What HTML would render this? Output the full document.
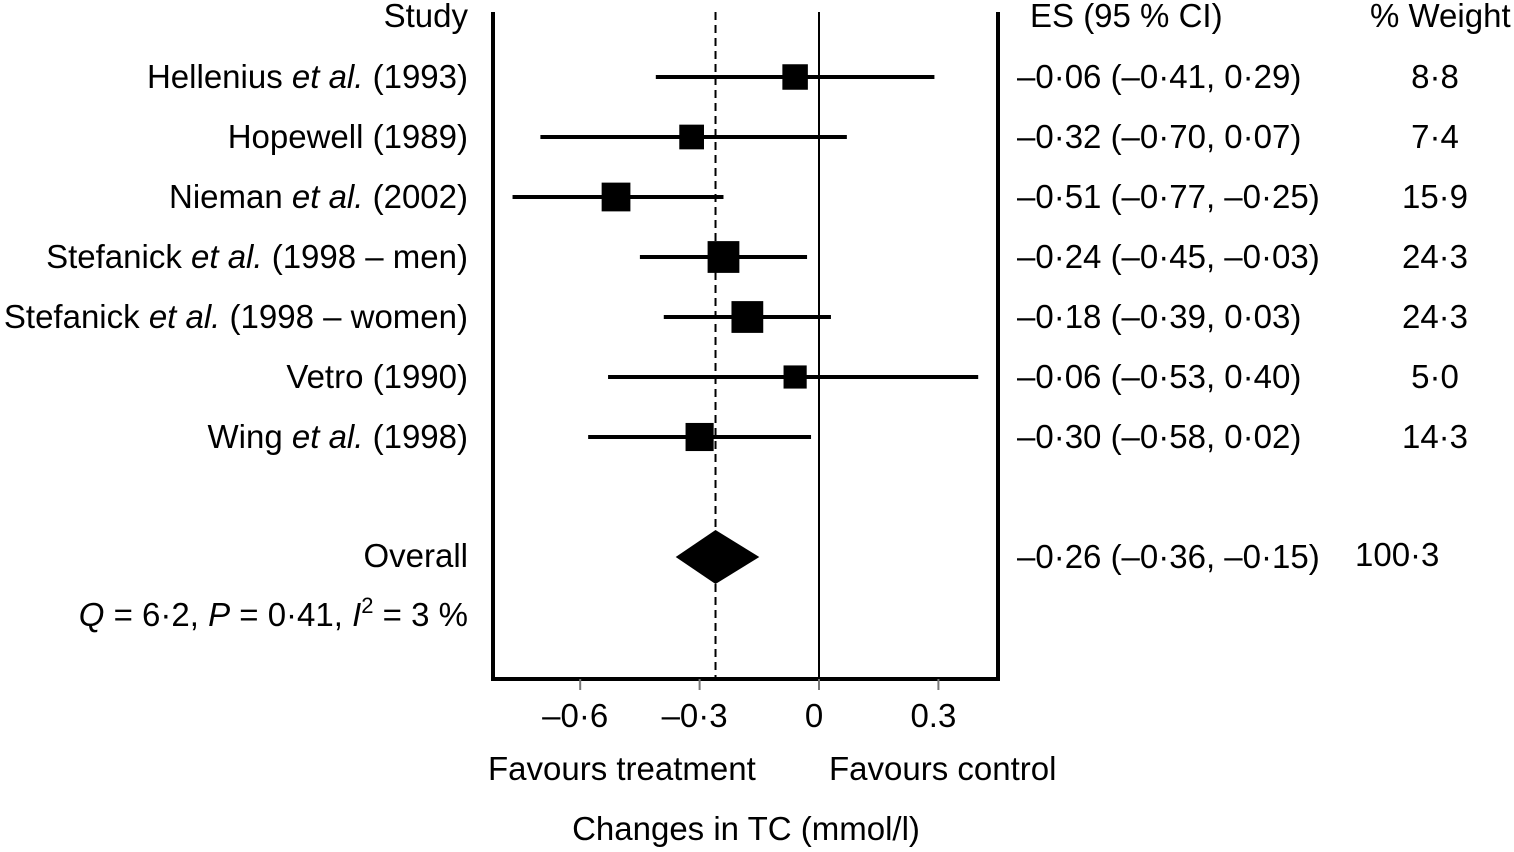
<!DOCTYPE html>
<html><head><meta charset="utf-8"><style>
body{margin:0;background:#fff;}
svg{display:block;font-family:"Liberation Sans",Arial,sans-serif;}
text{font-size:33px;fill:#000;}
</style></head><body>
<svg id="chart" width="1514" height="852">
<g id="frame"></g><g id="marks"></g><g id="labels"></g>
</svg>
<script>
const studies=["Hellenius|et al.|(1993)","Hopewell (1989)","Nieman|et al.|(2002)","Stefanick|et al.|(1998 – men)","Stefanick|et al.|(1998 – women)","Vetro (1990)","Wing|et al.|(1998)"];
const es=[-0.06,-0.32,-0.51,-0.24,-0.18,-0.06,-0.30];
const lo=[-0.41,-0.70,-0.77,-0.45,-0.39,-0.53,-0.58];
const hi=[0.29,0.07,-0.24,-0.03,0.03,0.40,-0.02];
const esText=["–0·06 (–0·41, 0·29)","–0·32 (–0·70, 0·07)","–0·51 (–0·77, –0·25)","–0·24 (–0·45, –0·03)","–0·18 (–0·39, 0·03)","–0·06 (–0·53, 0·40)","–0·30 (–0·58, 0·02)"];
const weights=[8.8,7.4,15.9,24.3,24.3,5.0,14.3];
const weightText=["8·8","7·4","15·9","24·3","24·3","5·0","14·3"];
const overall=[-0.26,-0.36,-0.15];
const ticks=[-0.6,-0.3,0,0.3];
const tickLabels=["–0·6","–0·3","0","0.3"];
const NS="http://www.w3.org/2000/svg";
const X=v=>819+v*398;
const Y=i=>77+i*60;
function mk(p,t,a){const e=document.createElementNS(NS,t);for(const k in a)e.setAttribute(k,a[k]);p.appendChild(e);return e;}
const fr=document.getElementById('frame'),mg=document.getElementById('marks'),lb=document.getElementById('labels');
let e;
e=mk(fr,'path',{d:'M493,12V679H998V12',fill:'none',stroke:'#000','stroke-width':4});


e=mk(fr,'line',{x1:X(0),x2:X(0),y1:12,y2:679,stroke:'#000','stroke-width':2});


e=mk(fr,'line',{x1:X(overall[0]),x2:X(overall[0]),y1:12,y2:679,stroke:'#000','stroke-width':2,'stroke-dasharray':'8,5'});


ticks.forEach((t,i)=>{
 e=mk(fr,'line',{x1:X(t),x2:X(t),y1:679,y2:690,stroke:'#777','stroke-width':2});
 
 
 e=mk(lb,'text',{x:X(t)-5,y:727,'text-anchor':'middle'});e.textContent=tickLabels[i];
 
 
});
studies.forEach((s,i)=>{
 const y=Y(i);
 e=mk(mg,'line',{x1:X(lo[i]),x2:X(hi[i]),y1:y,y2:y,stroke:'#000','stroke-width':4});
 
 
 const sz=16+Math.sqrt(weights[i])*3.2;
 e=mk(mg,'rect',{x:X(es[i])-sz/2,y:y-sz/2,width:sz,height:sz,fill:'#000'});
 
 
 e=mk(lb,'text',{x:468,y:y+11,'text-anchor':'end'});
 const p=s.split('|');
 if(p.length===1){e.textContent=s;}else{
  mk(e,'tspan',{}).textContent=p[0]+' ';
  const it=mk(e,'tspan',{'font-style':'italic'});it.textContent=p[1];
  mk(e,'tspan',{}).textContent=' '+p[2];
 }
 
 
 e=mk(lb,'text',{x:1017,y:y+11});e.textContent=esText[i];
 
 
 e=mk(lb,'text',{x:1435,y:y+11,'text-anchor':'middle'});e.textContent=weightText[i];
 
 
});
const oy=557;
e=mk(mg,'polygon',{points:`${X(overall[1])},${oy} ${X(overall[0])},${oy-27} ${X(overall[2])},${oy} ${X(overall[0])},${oy+27}`,fill:'#000'});


</script>
<script>
const L=document.getElementById('labels');
L.insertAdjacentHTML('beforeend',`
<text x="468" y="27" text-anchor="end">Study</text>
<text x="1030" y="27">ES (95 % CI)</text>
<text x="1370" y="27">% Weight</text>
<text x="468" y="567" text-anchor="end">Overall</text>
<text x="1017" y="568">–0·26 (–0·36, –0·15)</text>
<text x="1355" y="566">100·3</text>
<text x="468" y="626" text-anchor="end"><tspan font-style="italic">Q</tspan> = 6·2, <tspan font-style="italic">P</tspan> = 0·41, <tspan font-style="italic">I</tspan><tspan font-size="22" dy="-13">2</tspan><tspan dy="13"> = 3 %</tspan></text>
<text x="488" y="780">Favours treatment</text>
<text x="829" y="780">Favours control</text>
<text x="746" y="840" text-anchor="middle">Changes in TC (mmol/l)</text>`);
</script>
</body></html>
